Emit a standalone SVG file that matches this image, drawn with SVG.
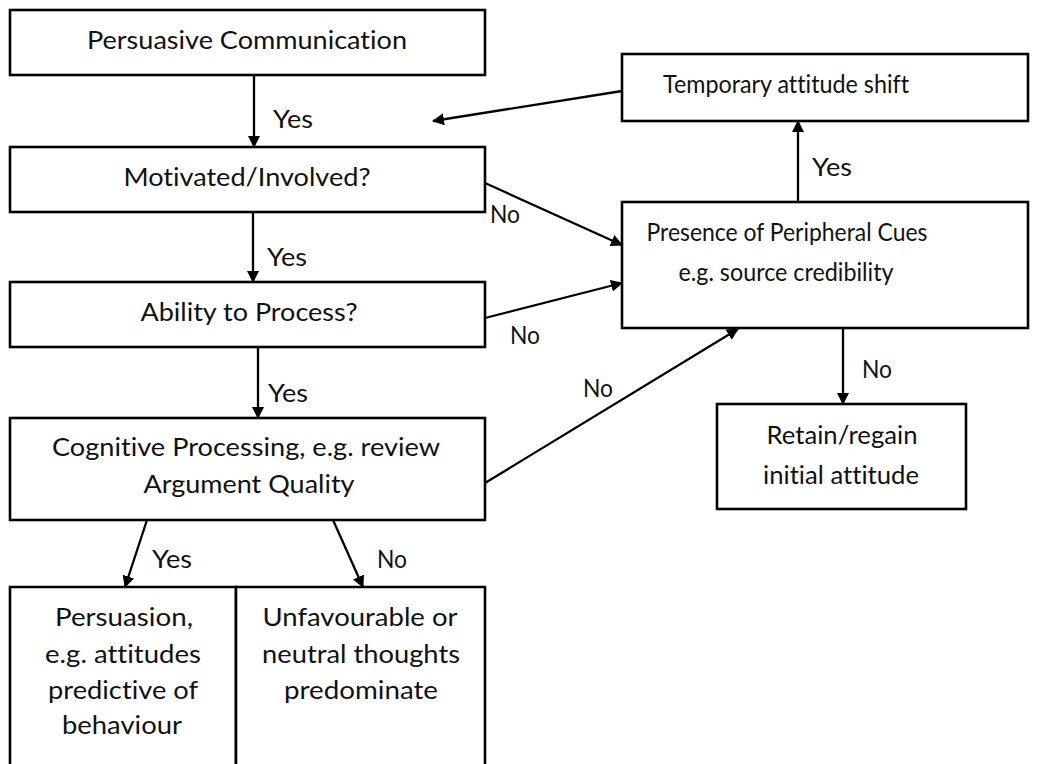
<svg xmlns="http://www.w3.org/2000/svg" width="1038" height="764" viewBox="0 0 1038 764">
  <style>
    .box { fill: #fff; stroke: #000; stroke-width: 2.6; }
    .t, .lbl { font-family: Lato, "Open Sans", sans-serif; font-size: 24.5px; fill: #111; font-variant-ligatures: none; }
    .t { text-anchor: middle; }
    .c { stroke: #000; stroke-width: 2.3; fill: none; marker-end: url(#arrow); }
  </style>
  <defs>
    <marker id="arrow" viewBox="0 0 12 12" refX="11" refY="6" markerWidth="12" markerHeight="12" markerUnits="userSpaceOnUse" orient="auto">
      <path d="M0,0 L12,6 L0,12 Z" fill="#000"/>
    </marker>
  </defs>
  <rect width="1038" height="764" fill="#fff"/>

  <g id="persuasive-communication">
    <rect class="box" x="10" y="10" width="475" height="65"/>
    <text class="t" x="247" y="49" textLength="320" lengthAdjust="spacingAndGlyphs">Persuasive Communication</text>
  </g>
  <g id="motivated">
    <rect class="box" x="10" y="147" width="475" height="65"/>
    <text class="t" x="247" y="186" textLength="247" lengthAdjust="spacingAndGlyphs">Motivated/Involved?</text>
  </g>
  <g id="ability">
    <rect class="box" x="10" y="282" width="475" height="65"/>
    <text class="t" x="249" y="321" textLength="217" lengthAdjust="spacingAndGlyphs">Ability to Process?</text>
  </g>
  <g id="cognitive">
    <rect class="box" x="10" y="418" width="475" height="102"/>
    <text class="t" x="246" y="456" textLength="388" lengthAdjust="spacingAndGlyphs">Cognitive Processing, e.g. review</text>
    <text class="t" x="249" y="493" textLength="211" lengthAdjust="spacingAndGlyphs">Argument Quality</text>
  </g>
  <g id="persuasion">
    <path class="box" d="M10,775 V587 H236 V775"/>
    <text class="t" x="124" y="626" textLength="138" lengthAdjust="spacingAndGlyphs">Persuasion,</text>
    <text class="t" x="123" y="663" textLength="156" lengthAdjust="spacingAndGlyphs">e.g. attitudes</text>
    <text class="t" x="123" y="699" textLength="150" lengthAdjust="spacingAndGlyphs">predictive of</text>
    <text class="t" x="122" y="734" textLength="120" lengthAdjust="spacingAndGlyphs">behaviour</text>
  </g>
  <g id="unfavourable">
    <path class="box" d="M236,775 V587 H485 V775"/>
    <text class="t" x="360" y="626" textLength="195" lengthAdjust="spacingAndGlyphs">Unfavourable or</text>
    <text class="t" x="361" y="663" textLength="198" lengthAdjust="spacingAndGlyphs">neutral thoughts</text>
    <text class="t" x="361" y="699" textLength="154" lengthAdjust="spacingAndGlyphs">predominate</text>
  </g>
  <g id="temporary-shift">
    <rect class="box" x="622" y="54" width="406" height="67"/>
    <text class="t" x="786" y="93" textLength="246" lengthAdjust="spacingAndGlyphs">Temporary attitude shift</text>
  </g>
  <g id="peripheral-cues">
    <rect class="box" x="622" y="202" width="406" height="126"/>
    <text class="t" x="787" y="241" textLength="281" lengthAdjust="spacingAndGlyphs">Presence of Peripheral Cues</text>
    <text class="t" x="786" y="281" textLength="215" lengthAdjust="spacingAndGlyphs">e.g. source credibility</text>
  </g>
  <g id="retain">
    <rect class="box" x="717" y="404" width="249" height="105"/>
    <text class="t" x="842" y="444" textLength="151" lengthAdjust="spacingAndGlyphs">Retain/regain</text>
    <text class="t" x="841" y="484" textLength="156" lengthAdjust="spacingAndGlyphs">initial attitude</text>
  </g>

  <g id="connectors">
    <line class="c" x1="254" y1="75" x2="254" y2="147"/>
    <line class="c" x1="253" y1="212" x2="253" y2="282"/>
    <line class="c" x1="258" y1="347" x2="258" y2="418"/>
    <line class="c" x1="147" y1="520" x2="125" y2="587"/>
    <line class="c" x1="333" y1="520" x2="363" y2="587"/>
    <line class="c" x1="485" y1="183" x2="622" y2="245"/>
    <line class="c" x1="485" y1="318" x2="622" y2="283"/>
    <line class="c" x1="485" y1="483" x2="738" y2="329"/>
    <line class="c" x1="798" y1="202" x2="798" y2="121"/>
    <line class="c" x1="622" y1="91" x2="433" y2="121"/>
    <line class="c" x1="843" y1="328" x2="843" y2="404"/>
  </g>

  <g id="labels">
    <text class="lbl" x="273" y="128" textLength="40" lengthAdjust="spacingAndGlyphs">Yes</text>
    <text class="lbl" x="267" y="266" textLength="40" lengthAdjust="spacingAndGlyphs">Yes</text>
    <text class="lbl" x="268" y="402" textLength="40" lengthAdjust="spacingAndGlyphs">Yes</text>
    <text class="lbl" x="152" y="568" textLength="40" lengthAdjust="spacingAndGlyphs">Yes</text>
    <text class="lbl" x="377" y="568" textLength="30" lengthAdjust="spacingAndGlyphs">No</text>
    <text class="lbl" x="490" y="223" textLength="30" lengthAdjust="spacingAndGlyphs">No</text>
    <text class="lbl" x="510" y="344" textLength="30" lengthAdjust="spacingAndGlyphs">No</text>
    <text class="lbl" x="583" y="397" textLength="30" lengthAdjust="spacingAndGlyphs">No</text>
    <text class="lbl" x="812" y="176" textLength="40" lengthAdjust="spacingAndGlyphs">Yes</text>
    <text class="lbl" x="862" y="378" textLength="30" lengthAdjust="spacingAndGlyphs">No</text>
  </g>
</svg>
